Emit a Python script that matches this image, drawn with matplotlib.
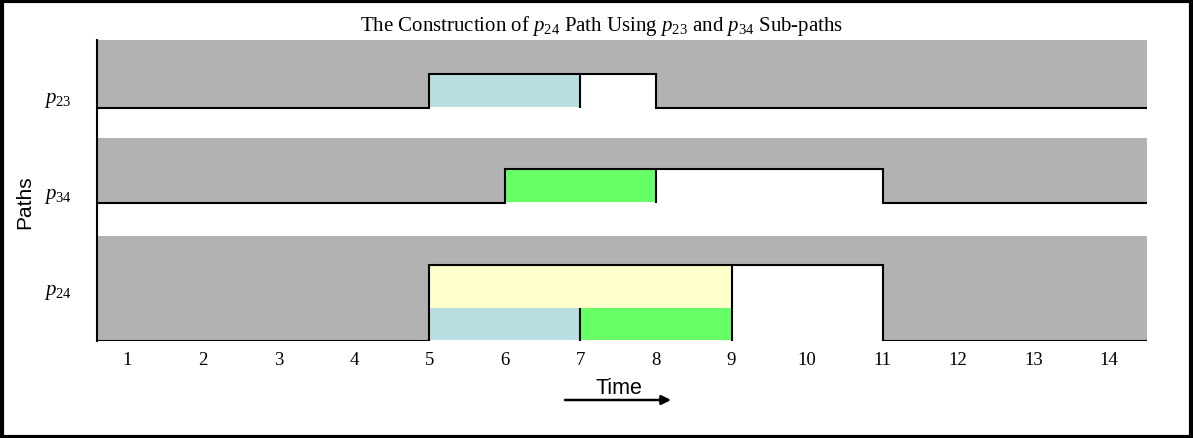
import matplotlib
matplotlib.use('Agg')
import matplotlib.pyplot as plt
from matplotlib.patches import Rectangle

# time axis
times = list(range(1, 15))
path_names = [r'$p_{\mathit{23}}$', r'$p_{\mathit{34}}$', r'$p_{\mathit{24}}$']
# window during which each path is available (start, end)
win_start = [5, 6, 5]
win_end = [8, 11, 11]
# sub-path segments used in the construction
p23_seg = (5, 7)
p34_seg = (6, 8)
p24_total = (5, 9)
p24_from_p23 = (5, 7)
p24_from_p34 = (7, 9)

gray = '#B2B2B2'
blue = '#B7DFE2'
green = '#66FF66'
yellow = '#FFFFCC'

plt.rcParams['font.family'] = ['Liberation Serif', 'DejaVu Serif']
plt.rcParams['mathtext.fontset'] = 'custom'
plt.rcParams['mathtext.rm'] = 'Liberation Serif'
plt.rcParams['mathtext.it'] = 'Liberation Serif:italic'

fig = plt.figure(figsize=(11.93, 4.38), dpi=100)
ax = fig.add_axes([97/1193, 1 - 341/438, (1147 - 97)/1193, (341 - 40)/438])

x0, x1 = 0.6, 14.5
# band layout: base of step line, step top, gray top
band_base = [233, 138, 0]
band_step = [267, 172, 76]
band_top = [301, 203, 105]
split = 33

for i in range(3):
    ws, we = win_start[i], win_end[i]
    xs = [x0, ws, ws, we, we, x1]
    ys = [band_base[i], band_base[i], band_step[i], band_step[i], band_base[i], band_base[i]]
    ax.fill_between(xs, ys, band_top[i], color=gray, lw=0)
    ax.plot(xs, ys, color='black', lw=1.5, solid_joinstyle='miter')

# p23 row
ax.fill_between(p23_seg, band_base[0] + 0.8, band_step[0] - 0.8, color=blue, lw=0)
ax.vlines(p23_seg[1], band_base[0], band_step[0], color='black', lw=1.5)
# p34 row
ax.fill_between(p34_seg, band_base[1] + 0.8, band_step[1] - 0.8, color=green, lw=0)
ax.vlines(p34_seg[1], band_base[1], band_step[1], color='black', lw=1.5)
# p24 row
ax.fill_between(p24_total, split, band_step[2] - 0.8, color=yellow, lw=0)
ax.fill_between(p24_from_p23, band_base[2] + 0.8, split, color=blue, lw=0)
ax.fill_between(p24_from_p34, band_base[2] + 0.8, split, color=green, lw=0)
ax.vlines(p24_from_p23[1], band_base[2], split, color='black', lw=1.5)
ax.vlines(p24_total[1], band_base[2], band_step[2], color='black', lw=1.5)

ax.set_xlim(x0, x1)
ax.set_ylim(0, 301)
for s in ['top', 'right', 'bottom']:
    ax.spines[s].set_visible(False)
ax.spines['left'].set_linewidth(1.5)
ax.set_xticks(times)
ax.set_xticklabels([str(t) for t in times], fontsize=13.5)
ax.set_yticks([341 - 97, 341 - 193, 341 - 289])
ax.set_yticklabels(path_names, fontsize=15)
ax.tick_params(axis='both', length=0)
ax.tick_params(axis='x', pad=8)
ax.tick_params(axis='y', pad=18)

fig.text(602/1193, 1 - 26/438, r'The Construction of $p_{\mathit{24}}$ Path Using $p_{\mathit{23}}$ and $p_{\mathit{34}}$ Sub-paths',
         ha='center', va='center', fontsize=15)
fig.text(25/1193, 1 - 202/438, 'Paths', rotation=90, ha='center', va='center',
         fontsize=15, family='Liberation Sans')
fig.text(619/1193, 1 - 388/438, 'Time', ha='center', va='center',
         fontsize=15.5, family='Liberation Sans')
fig.add_artist(plt.Annotation('', xy=(671/1193, 1 - 400/438), xytext=(565/1193, 1 - 400/438),
                              xycoords='figure fraction', textcoords='figure fraction',
                              arrowprops=dict(arrowstyle='-|>', color='black', lw=1.8,
                                              mutation_scale=14, shrinkA=0, shrinkB=0)))

# frame around the whole figure
fig.add_artist(Rectangle((0.002, 0.003), 0.996, 0.994, transform=fig.transFigure,
                         fill=False, edgecolor='black', lw=3))

fig.savefig('out.png', dpi=100)
